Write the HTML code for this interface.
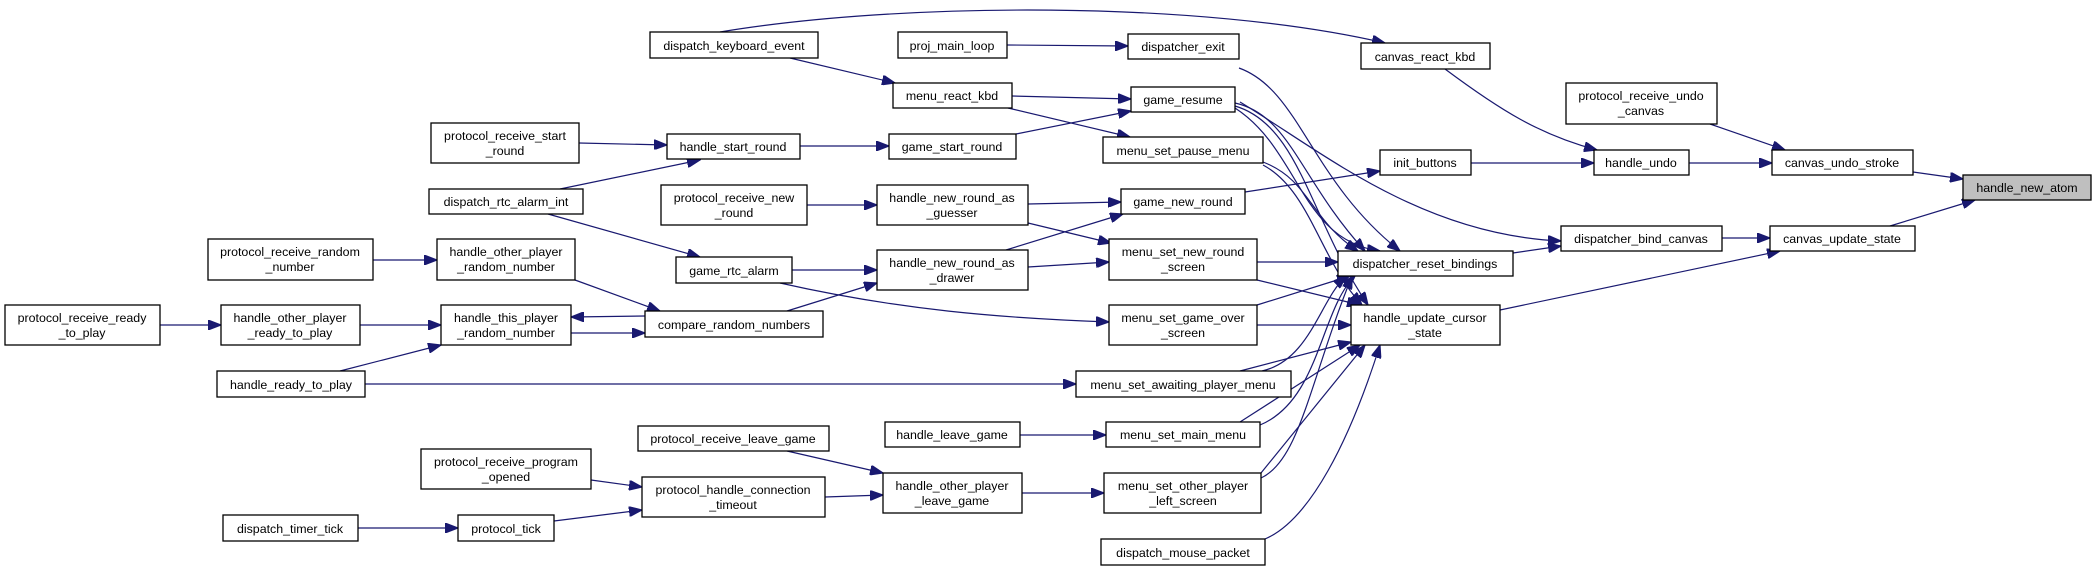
<!DOCTYPE html>
<html><head><meta charset="utf-8"><style>
html,body{margin:0;padding:0;background:#fff;}
svg{display:block;}
text{font-family:"Liberation Sans",sans-serif;font-size:12.4px;fill:#000;text-anchor:middle;}
rect{fill:#fff;stroke:#000;stroke-width:1.3;}
path{fill:none;stroke:#191970;stroke-width:1.2;}
</style></head><body>
<svg width="2092" height="571" viewBox="0 0 2092 571">
<defs>
<marker id="a" markerUnits="userSpaceOnUse" markerWidth="14" markerHeight="10" refX="13" refY="5" orient="auto">
<path d="M0,0 L13,5 L0,10 Z" style="fill:#191970;stroke:#191970"/>
</marker>
</defs>
<g marker-end="url(#a)">
<path d="M720,32 C900,2 1200,0 1385,43"/>
<path d="M790,58 L895,83"/>
<path d="M1007,45 L1128,46"/>
<path d="M1239,68 C1300,90 1310,180 1400,251"/>
<path d="M1012,96 L1131,99"/>
<path d="M1008,108 L1130,137"/>
<path d="M579,143 L667,145"/>
<path d="M560,189 L700,160"/>
<path d="M548,214 L700,257"/>
<path d="M800,146 L889,146"/>
<path d="M1016,134 L1131,111"/>
<path d="M1235,103 C1290,115 1300,180 1365,251"/>
<path d="M1235,106 C1300,125 1310,220 1368,305"/>
<path d="M1235,108 C1300,150 1300,240 1380,251"/>
<path d="M1263,162 C1310,180 1310,220 1358,251"/>
<path d="M1263,165 C1310,190 1320,260 1362,305"/>
<path d="M807,205 L877,205"/>
<path d="M1028,204 L1121,202"/>
<path d="M1028,223 L1111,243"/>
<path d="M1006,250 L1123,214"/>
<path d="M1028,267 L1109,262"/>
<path d="M792,270 L877,270"/>
<path d="M780,283 C900,310 1000,318 1109,322"/>
<path d="M1245,192 L1380,171"/>
<path d="M1471,163 L1594,163"/>
<path d="M1445,69 C1500,110 1540,135 1597,150"/>
<path d="M1710,124 L1785,150"/>
<path d="M1689,163 L1772,163"/>
<path d="M1913,172 L1963,179"/>
<path d="M1890,226 L1975,200"/>
<path d="M1722,238 L1770,238"/>
<path d="M1513,253 L1561,246"/>
<path d="M1240,102 C1320,150 1420,235 1561,241"/>
<path d="M1500,310 L1780,251"/>
<path d="M1257,262 L1338,262"/>
<path d="M1257,280 L1360,305"/>
<path d="M1257,305 L1350,276"/>
<path d="M1257,325 L1351,325"/>
<path d="M1240,371 L1351,342"/>
<path d="M1262,371 C1310,360 1320,300 1346,276"/>
<path d="M1240,422 L1360,345"/>
<path d="M1260,425 C1320,400 1320,310 1355,276"/>
<path d="M1261,473 L1365,345"/>
<path d="M1261,478 C1300,460 1310,380 1352,276"/>
<path d="M1265,539 C1310,520 1350,440 1380,345"/>
<path d="M373,260 L437,260"/>
<path d="M575,280 L660,311"/>
<path d="M645,316 L571,317"/>
<path d="M571,333 L645,333"/>
<path d="M787,311 L877,283"/>
<path d="M160,325 L221,325"/>
<path d="M360,325 L441,325"/>
<path d="M340,371 L441,345"/>
<path d="M365,384 L1076,384"/>
<path d="M1020,435 L1106,435"/>
<path d="M787,451 L883,473"/>
<path d="M825,497 L883,495"/>
<path d="M591,480 L642,487"/>
<path d="M358,528 L458,528"/>
<path d="M554,521 L642,510"/>
<path d="M1022,493 L1104,493"/>
</g>
<g>
<rect x="650" y="32" width="168" height="26"/><text x="734" y="50">dispatch_keyboard_event</text>
<rect x="898" y="32" width="109" height="26"/><text x="952" y="50">proj_main_loop</text>
<rect x="1128" y="34" width="111" height="25"/><text x="1183" y="51">dispatcher_exit</text>
<rect x="1361" y="43" width="129" height="26"/><text x="1425" y="61">canvas_react_kbd</text>
<rect x="893" y="83" width="119" height="25"/><text x="952" y="100">menu_react_kbd</text>
<rect x="1131" y="87" width="104" height="25"/><text x="1183" y="104">game_resume</text>
<rect x="1566" y="83" width="151" height="41"/><text x="1641" y="100">protocol_receive_undo</text><text x="1641" y="115">_canvas</text>
<rect x="431" y="123" width="148" height="40"/><text x="505" y="140">protocol_receive_start</text><text x="505" y="155">_round</text>
<rect x="667" y="134" width="133" height="25"/><text x="733" y="151">handle_start_round</text>
<rect x="889" y="134" width="127" height="25"/><text x="952" y="151">game_start_round</text>
<rect x="1103" y="137" width="160" height="26"/><text x="1183" y="155">menu_set_pause_menu</text>
<rect x="1380" y="150" width="91" height="25"/><text x="1425" y="167">init_buttons</text>
<rect x="1594" y="150" width="95" height="25"/><text x="1641" y="167">handle_undo</text>
<rect x="1772" y="150" width="141" height="25"/><text x="1842" y="167">canvas_undo_stroke</text>
<rect x="1963" y="175" width="128" height="25" style="fill:#bfbfbf"/><text x="2027" y="192">handle_new_atom</text>
<rect x="661" y="185" width="146" height="40"/><text x="734" y="202">protocol_receive_new</text><text x="734" y="217">_round</text>
<rect x="877" y="185" width="151" height="40"/><text x="952" y="202">handle_new_round_as</text><text x="952" y="217">_guesser</text>
<rect x="429" y="189" width="154" height="25"/><text x="506" y="206">dispatch_rtc_alarm_int</text>
<rect x="1121" y="189" width="124" height="25"/><text x="1183" y="206">game_new_round</text>
<rect x="1561" y="226" width="161" height="25"/><text x="1641" y="243">dispatcher_bind_canvas</text>
<rect x="1770" y="226" width="145" height="25"/><text x="1842" y="243">canvas_update_state</text>
<rect x="208" y="239" width="165" height="41"/><text x="290" y="256">protocol_receive_random</text><text x="290" y="271">_number</text>
<rect x="437" y="239" width="138" height="41"/><text x="506" y="256">handle_other_player</text><text x="506" y="271">_random_number</text>
<rect x="1109" y="239" width="148" height="41"/><text x="1183" y="256">menu_set_new_round</text><text x="1183" y="271">_screen</text>
<rect x="877" y="250" width="151" height="40"/><text x="952" y="267">handle_new_round_as</text><text x="952" y="282">_drawer</text>
<rect x="1338" y="251" width="175" height="25"/><text x="1425" y="268">dispatcher_reset_bindings</text>
<rect x="676" y="257" width="116" height="26"/><text x="734" y="275">game_rtc_alarm</text>
<rect x="5" y="305" width="155" height="40"/><text x="82" y="322">protocol_receive_ready</text><text x="82" y="337">_to_play</text>
<rect x="221" y="305" width="139" height="40"/><text x="290" y="322">handle_other_player</text><text x="290" y="337">_ready_to_play</text>
<rect x="441" y="305" width="130" height="40"/><text x="506" y="322">handle_this_player</text><text x="506" y="337">_random_number</text>
<rect x="645" y="311" width="178" height="26"/><text x="734" y="329">compare_random_numbers</text>
<rect x="1109" y="305" width="148" height="40"/><text x="1183" y="322">menu_set_game_over</text><text x="1183" y="337">_screen</text>
<rect x="1351" y="305" width="149" height="40"/><text x="1425" y="322">handle_update_cursor</text><text x="1425" y="337">_state</text>
<rect x="217" y="371" width="148" height="26"/><text x="291" y="389">handle_ready_to_play</text>
<rect x="1076" y="371" width="215" height="26"/><text x="1183" y="389">menu_set_awaiting_player_menu</text>
<rect x="885" y="422" width="135" height="25"/><text x="952" y="439">handle_leave_game</text>
<rect x="1106" y="422" width="154" height="25"/><text x="1183" y="439">menu_set_main_menu</text>
<rect x="638" y="426" width="191" height="25"/><text x="733" y="443">protocol_receive_leave_game</text>
<rect x="421" y="449" width="170" height="40"/><text x="506" y="466">protocol_receive_program</text><text x="506" y="481">_opened</text>
<rect x="642" y="477" width="183" height="40"/><text x="733" y="494">protocol_handle_connection</text><text x="733" y="509">_timeout</text>
<rect x="883" y="473" width="139" height="40"/><text x="952" y="490">handle_other_player</text><text x="952" y="505">_leave_game</text>
<rect x="1104" y="473" width="157" height="40"/><text x="1183" y="490">menu_set_other_player</text><text x="1183" y="505">_left_screen</text>
<rect x="223" y="515" width="135" height="26"/><text x="290" y="533">dispatch_timer_tick</text>
<rect x="458" y="515" width="96" height="26"/><text x="506" y="533">protocol_tick</text>
<rect x="1101" y="539" width="164" height="26"/><text x="1183" y="557">dispatch_mouse_packet</text>
</g>
</svg>
</body></html>
